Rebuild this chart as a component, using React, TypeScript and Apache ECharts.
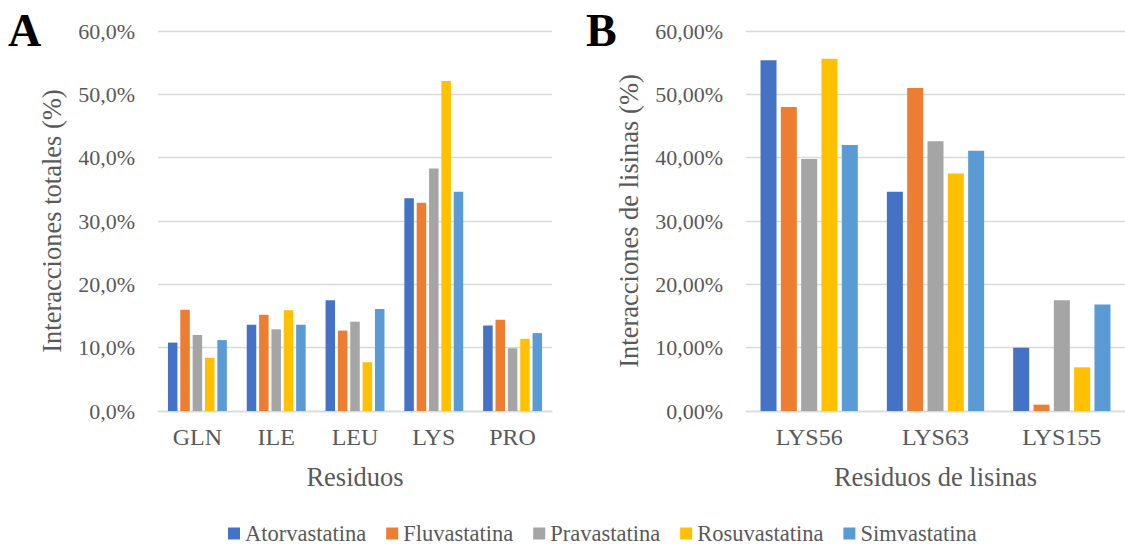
import React, { useEffect, useRef } from "react";
import * as echarts from "echarts";

const seriesNames = ["Atorvastatina", "Fluvastatina", "Pravastatina", "Rosuvastatina", "Simvastatina"];
const colors = ["#4472C4", "#ED7D31", "#A5A5A5", "#FFC000", "#5B9BD5"];

const categoriesA = ["GLN", "ILE", "LEU", "LYS", "PRO"];
const atorvaA = [10.8, 13.6, 17.5, 33.6, 13.5];
const fluvaA = [16.0, 15.2, 12.7, 32.9, 14.4];
const pravaA = [12.0, 12.9, 14.1, 38.3, 9.9];
const rosuvaA = [8.4, 15.9, 7.7, 52.1, 11.4];
const simvaA = [11.2, 13.6, 16.1, 34.6, 12.3];

const categoriesB = ["LYS56", "LYS63", "LYS155"];
const atorvaB = [55.4, 34.6, 10.0];
const fluvaB = [48.0, 51.0, 1.0];
const pravaB = [39.8, 42.6, 17.5];
const rosuvaB = [55.6, 37.5, 6.9];
const simvaB = [42.0, 41.1, 16.8];

const yTicks = [0, 10, 20, 30, 40, 50, 60];

const FONT = "'Liberation Serif', 'Times New Roman', serif";
const TXT = "#595959";

export default function App() {
  const ref = useRef<HTMLDivElement>(null);
  useEffect(() => {
    if (!ref.current) return;
    const chart = echarts.init(ref.current, null, { renderer: "svg" });
    const dataA = [atorvaA, fluvaA, pravaA, rosuvaA, simvaA];
    const dataB = [atorvaB, fluvaB, pravaB, rosuvaB, simvaB];
    const yAxisBase = (dec: number, name: string, gap: number, idx: number) => ({
      type: "value",
      gridIndex: idx,
      min: yTicks[0],
      max: yTicks[yTicks.length - 1],
      interval: 10,
      name,
      nameLocation: "middle",
      nameGap: gap,
      nameTextStyle: { fontFamily: FONT, fontSize: 26.5, color: TXT },
      axisLine: { show: false },
      axisTick: { show: false },
      splitLine: { lineStyle: { color: "#d9d9d9", width: 1.3 } },
      axisLabel: {
        fontFamily: FONT,
        fontSize: 22,
        color: TXT,
        margin: 23,
        formatter: (v: number) => v.toFixed(dec).replace(".", ",") + "%",
      },
    });
    const xAxisBase = (cats: string[], name: string, idx: number) => ({
      type: "category",
      gridIndex: idx,
      data: cats,
      name,
      nameLocation: "middle",
      nameGap: 52,
      nameTextStyle: { fontFamily: FONT, fontSize: 26.5, color: TXT },
      axisLine: { lineStyle: { color: "#d9d9d9", width: 1.3 } },
      axisTick: { show: false },
      axisLabel: { fontFamily: FONT, fontSize: 24, color: TXT, margin: 14 },
    });
    const series: any[] = [];
    seriesNames.forEach((n, i) => {
      series.push({
        name: n,
        type: "bar",
        xAxisIndex: 0,
        yAxisIndex: 0,
        data: dataA[i],
        barWidth: 9.5,
        barGap: "30%",
        itemStyle: { color: colors[i] },
      });
    });
    seriesNames.forEach((n, i) => {
      series.push({
        name: n,
        type: "bar",
        xAxisIndex: 1,
        yAxisIndex: 1,
        data: dataB[i],
        barWidth: 16,
        barGap: "27%",
        itemStyle: { color: colors[i] },
      });
    });
    chart.setOption({
      animation: false,
      backgroundColor: "#ffffff",
      grid: [
        { left: 158, right: 573, top: 31, bottom: 135 },
        { left: 746, right: -14, top: 31, bottom: 135 },
      ],
      xAxis: [xAxisBase(categoriesA, "Residuos", 0), xAxisBase(categoriesB, "Residuos de lisinas", 1)],
      yAxis: [yAxisBase(1, "Interacciones totales (%)", 93, 0), yAxisBase(2, "Interacciones de lisinas (%)", 104, 1)],
      legend: {
        data: seriesNames,
        left: 228,
        top: 522,
        padding: 0,
        itemWidth: 12,
        itemHeight: 12,
        itemGap: 20,
        icon: "rect",
        textStyle: { fontFamily: FONT, fontSize: 22.5, color: TXT },
      },
      graphic: [
        {
          type: "text",
          left: 8,
          top: 7,
          style: { text: "A", font: "bold 46px 'Liberation Serif', serif", fill: "#000" },
        },
        {
          type: "text",
          left: 586,
          top: 7,
          style: { text: "B", font: "bold 46px 'Liberation Serif', serif", fill: "#000" },
        },
      ],
      series,
    });
    return () => chart.dispose();
  }, []);
  return (
    <div
      ref={ref}
      style={{ position: "absolute", left: 0, top: 0, width: 1125, height: 546 }}
    />
  );
}
